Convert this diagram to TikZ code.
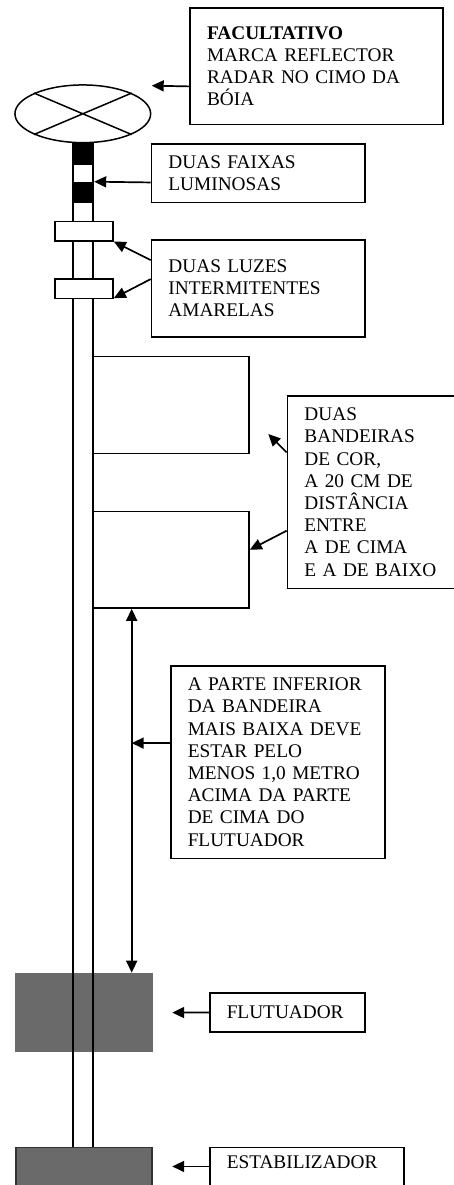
\documentclass[tikz,border=0pt]{standalone}
\usepackage{fontspec}
\setmainfont{Liberation Serif}
\usetikzlibrary{arrows.meta,shapes.geometric}
\definecolor{floatgray}{RGB}{106,106,106}
\tikzset{
	arr/.style={line width=1.7pt, -{Triangle[length=12pt,width=11pt]}},
	darr/.style={line width=1.7pt, {Triangle[length=12pt,width=11pt]}-{Triangle[length=12pt,width=11pt]}},
	part/.style={draw, line width=1.5pt, inner sep=0pt, anchor=north west},
	tbox/.style={draw, line width=1.5pt, anchor=north west, align=left, inner xsep=17pt, inner ysep=0pt, font=\fontsize{19.3}{22.2}\selectfont}
}

\begin{document}
\begin{tikzpicture}[x=1pt, y=-1pt]
			%%%%% START %%%%%
			\useasboundingbox (0, 0) rectangle (453, 1185);
			
			\node[part, draw=none, fill=floatgray, minimum width=137.7pt, minimum height=78.3pt] (flut) at (14.3, 972.7) {};
			
			\draw[line width=1.8pt] (73.3, 142.7) -- (73.3, 1146.7);
			\draw[line width=1.8pt] (92.7, 142.7) -- (92.7, 1146.7);
			
			\node[part, fill=black, minimum width=19.4pt, minimum height=20pt] (faixa1) at (73.3, 143.3) {};
			\node[part, fill=black, minimum width=19.4pt, minimum height=20pt] (faixa2) at (73.3, 181.7) {};
			
			\node[part, fill=white, minimum width=58.3pt, minimum height=19.4pt] (luz1) at (54, 220.7) {};
			\node[part, fill=white, minimum width=58.3pt, minimum height=19.4pt] (luz2) at (54, 278.3) {};
			
			\node[part, fill=white, minimum width=155.6pt, minimum height=97pt] (flag1) at (92.7, 355.7) {};
			\node[part, fill=white, minimum width=155.6pt, minimum height=96.6pt] (flag2) at (92.7, 510.7) {};
			
			\node[part, fill=floatgray, draw=black!80, minimum width=136pt, minimum height=60pt] (estab) at (15, 1146.7) {};
			
			\node[draw, ellipse, line width=1.5pt, inner sep=0pt, minimum width=135.7pt, minimum height=57.7pt] (radar) at (82.8, 113.8) {};
			\draw[line width=1.5pt] (radar.157) -- (radar.-23) (radar.23) -- (radar.203);
			
			\node[tbox, text width=218.7pt, minimum height=116.7pt] (facult) at (189.3, 7.3) {\textbf{FACULTATIVO}\\MARCA REFLECTOR\\RADAR NO CIMO DA\\BÓIA};
			\node[tbox, text width=179.6pt, minimum height=58.4pt] (faixas) at (150.7, 143.3) {DUAS FAIXAS\\LUMINOSAS};
			\node[tbox, text width=179.6pt, minimum height=96.7pt] (luzes) at (150.7, 239.3) {DUAS LUZES\\INTERMITENTES\\AMARELAS};
			\node[tbox, text width=146pt, minimum height=192.7pt] (bandeiras) at (286.7, 395) {DUAS\\BANDEIRAS\\DE COR,\\A 20 CM DE\\DISTÂNCIA\\ENTRE\\A DE CIMA\\E A DE BAIXO};
			\node[tbox, text width=180pt, minimum height=192.7pt] (parte) at (170, 665) {A PARTE INFERIOR\\DA BANDEIRA\\MAIS BAIXA DEVE\\ESTAR PELO\\MENOS 1,0 METRO\\ACIMA DA PARTE\\DE CIMA DO\\FLUTUADOR};
			\node[tbox, text width=121.3pt, minimum height=38.7pt] (flutlbl) at (209, 992.3) {FLUTUADOR};
			\node[tbox, text width=160.3pt, minimum height=45pt, text height=12.8pt, text depth=15.5pt] (establbl) at (209, 1146.7) {ESTABILIZADOR};
			
			% arrows
			\coordinate (radartip) at (151.7, 85.7);
			\draw[arr] ([yshift=-20pt]facult.west) -- (radartip);
			\draw[arr] ([yshift=-9.2pt]faixas.west) -- (faixa2.north east);
			\draw[arr] ([yshift=28.3pt]luzes.west) -- (luz1.south east);
			\draw[arr] ([yshift=9.3pt]luzes.west) -- ([yshift=1pt]luz2.south east);
			
			\coordinate (flagtip) at (268.3, 434);
			\draw[arr] ([yshift=39.6pt]bandeiras.west) -- (flagtip);
			\draw[arr] ([yshift=-38.6pt]bandeiras.west) -- ([yshift=10pt]flag2.east);
			
			\coordinate (gap) at ([xshift=39pt]flag2.south west);
			\draw[darr] (gap) -- (gap |- flut.north);
			\coordinate (psrc) at ([yshift=19pt]parte.west);
			\draw[arr] (psrc) -- (gap |- psrc);
			
			\draw[arr] (flutlbl.west) -- ([xshift=18.7pt]flut.east);
			\coordinate (esrc) at ([yshift=3.5pt]establbl.west);
			\coordinate (etip) at ([xshift=19.7pt]estab.east);
			\draw[arr] (esrc) -- (etip |- esrc);
			
			%%%%% END %%%%%
\end{tikzpicture}
\end{document}
